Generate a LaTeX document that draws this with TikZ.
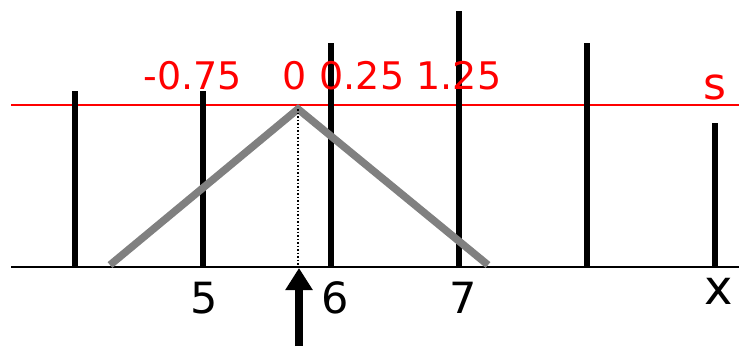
\documentclass[tikz,border=0pt]{standalone}
\usepackage{fontspec}
\setmainfont{DejaVu Sans}
\usetikzlibrary{arrows.meta}
\begin{document}
\begin{tikzpicture}[x=1pt,y=-1pt,
  spike/.style={line width=6pt},
  redlbl/.style={text=red,anchor=base,inner sep=0pt,font=\fontsize{38}{38}\selectfont},
  blklbl/.style={text=black,anchor=base,inner sep=0pt,font=\fontsize{43}{43}\selectfont},
  kernel/.style={line width=7.5pt,draw={rgb,255:red,128;green,128;blue,128},line join=miter}]
\useasboundingbox (0,0) rectangle (739,346);
% axes
\coordinate (axL) at (11,267);
\coordinate (axR) at (739,267);
\coordinate (sL) at (11,105);
\coordinate (sR) at (739,105);
\draw[line width=2.5pt] (axL) -- (axR);
\draw[red,line width=2pt] (sL) -- (sR);
% spikes
\foreach \n/\x/\t in {a/75/91,b/203/91,c/331/43,d/459/11,e/587/43,f/715/123}{
  \coordinate (\n top) at (\x,\t);
  \coordinate (\n bot) at (\x,267);
  \draw[spike] (\n bot) -- (\n top);
}
% triangle kernel
\coordinate (kL) at (110,265);
\coordinate (kP) at (298,109);
\coordinate (kR) at (488,265);
\coordinate (kB) at (298,267);
\draw[kernel] (kL) -- (kP) -- (kR);
\draw[line width=1.5pt,dotted] (kP) -- (kB);
% arrow
\coordinate (arB) at (299,346);
\coordinate (arT) at (299,268);
\draw[line width=8pt,-{Triangle[length=22pt,width=26pt]}] (arB) -- (arT);
% labels
\node[redlbl] (l1) at (193,89) {-0.75};
\node[redlbl] (l2) at (295,89) {0};
\node[redlbl] (l3) at (362,89) {0.25};
\node[redlbl] (l4) at (459,89) {1.25};
\node[text=red,anchor=base,inner sep=0pt,font=\fontsize{44}{44}\selectfont] (ls) at (715,99) {s};
\node[blklbl] (n5) at (204,313) {5};
\node[blklbl] (n6) at (335,313) {6};
\node[blklbl] (n7) at (463,313) {7};
\node[anchor=base,inner sep=0pt,font=\fontsize{48}{48}\selectfont] (nx) at (719,304) {x};
\end{tikzpicture}
\end{document}
